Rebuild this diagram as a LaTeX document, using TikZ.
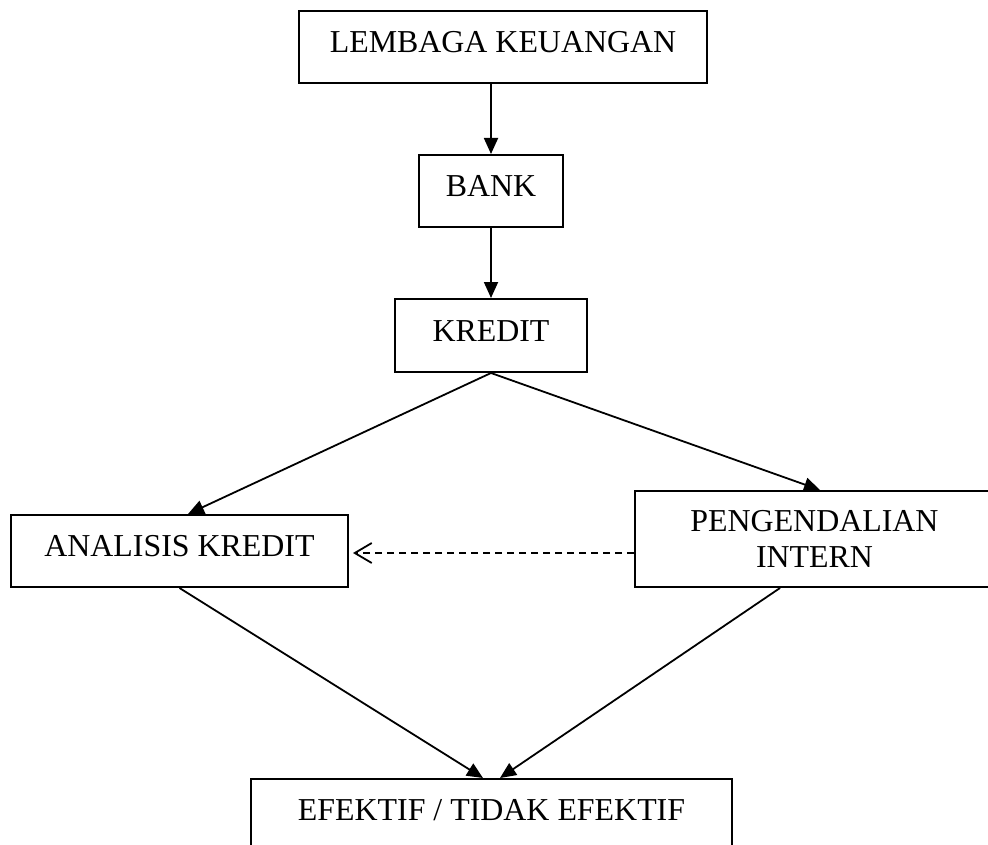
\documentclass[tikz,border=0pt]{standalone}
\usepackage{fontspec}
\setmainfont{Liberation Serif}
\usetikzlibrary{arrows.meta}
\tikzset{
  box/.style={draw, line width=2pt, inner sep=0pt, text height=21pt, text depth=10pt,
    font=\fontsize{31.9}{36.5}\selectfont},
  conn/.style={line width=1.8pt, -{Triangle[length=16pt,width=14pt]}},
  dconn/.style={line width=1.8pt, dash pattern=on 7pt off 5pt,
    -{Straight Barb[length=17pt,width=20pt,line width=1.8pt]}}
}
\begin{document}
\begin{tikzpicture}[x=1pt,y=1pt]
\useasboundingbox (0,0) rectangle (988,-845);
\node[box, minimum width=408pt, minimum height=72pt] (lk) at (503,-47) {LEMBAGA KEUANGAN};
\node[box, minimum width=144pt, minimum height=72pt] (bank) at (491,-191) {BANK};
\node[box, minimum width=192pt, minimum height=73pt] (kr) at (491,-335.5) {KREDIT};
\node[box, minimum width=337pt, minimum height=72pt] (an) at (179.5,-551) {ANALISIS KREDIT};
\node[box, text height=, text depth=, align=center, minimum width=359pt, minimum height=96pt] (pi) at (814.5,-539) {PENGENDALIAN\\INTERN};
\node[box, minimum width=481pt, minimum height=72pt] (ef) at (491.5,-815) {EFEKTIF / TIDAK EFEKTIF};
\draw[conn] ([xshift=-12pt]lk.south) -- (bank.north);
\draw[conn] (bank.south) -- (kr.north);
\draw[conn] (kr.south) -- ([xshift=8.5pt]an.north);
\draw[conn] (kr.south) -- ([xshift=5.5pt]pi.north);
\draw[conn] (an.south) -- ([xshift=-8.5pt]ef.north);
\draw[conn] ([xshift=-34.5pt]pi.south) -- ([xshift=8.5pt]ef.north);
\draw[dconn] ([yshift=-14pt]pi.west) -- ([xshift=4pt,yshift=-2pt]an.east);
\end{tikzpicture}
\end{document}
